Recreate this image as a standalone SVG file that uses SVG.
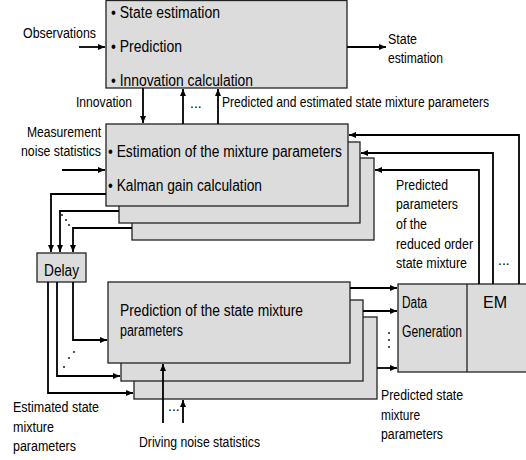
<svg xmlns="http://www.w3.org/2000/svg" width="526" height="460" viewBox="0 0 526 460">
<defs>
<marker id="ah" markerUnits="userSpaceOnUse" markerWidth="8" markerHeight="7" refX="7" refY="3" orient="auto"><path d="M0,0 L7,3 L0,6 z" fill="#000"/></marker>
<style>
.box{fill:#dcdcdc;stroke:#222;stroke-width:1.3}
.ln{fill:none;stroke:#000;stroke-width:1.8}
.ar{fill:none;stroke:#000;stroke-width:1.8;marker-end:url(#ah)}
text{font-family:"Liberation Sans",Arial,sans-serif;fill:#000}
.b{font-size:16px}
.l{font-size:14px}
.dot{fill:#000}
</style>
</defs>
<rect width="526" height="460" fill="#fff"/>
<g id="top-box">
<rect class="box" x="106" y="0.5" width="241" height="87.5"/>
<text class="b" x="111" y="18" textLength="109" lengthAdjust="spacingAndGlyphs">• State estimation</text>
<text class="b" x="111" y="52" textLength="71" lengthAdjust="spacingAndGlyphs">• Prediction</text>
<text class="b" x="111" y="86" textLength="142" lengthAdjust="spacingAndGlyphs">• Innovation calculation</text>
</g>
<g id="estimation-boxes">
<rect class="box" x="132" y="158" width="242" height="82"/>
<rect class="box" x="119" y="142" width="241" height="81"/>
<rect class="box" x="106" y="124" width="242" height="82"/>
<text class="b" x="108" y="157" textLength="234" lengthAdjust="spacingAndGlyphs">• Estimation of the mixture parameters</text>
<text class="b" x="108" y="191" textLength="154" lengthAdjust="spacingAndGlyphs">• Kalman gain calculation</text>
</g>
<g id="delay">
<rect class="box" x="37" y="253" width="49" height="29"/>
<text class="b" x="44" y="276" textLength="35" lengthAdjust="spacingAndGlyphs">Delay</text>
</g>
<g id="prediction-boxes">
<rect class="box" x="134" y="317" width="243" height="82"/>
<rect class="box" x="121" y="300" width="242" height="81"/>
<rect class="box" x="108" y="282" width="242" height="81"/>
<text class="b" x="120" y="316" textLength="183" lengthAdjust="spacingAndGlyphs">Prediction of the state mixture</text>
<text class="b" x="120" y="336" textLength="63" lengthAdjust="spacingAndGlyphs">parameters</text>
</g>
<g id="data-em">
<rect class="box" x="398" y="284" width="130" height="88"/>
<line x1="467" y1="284" x2="467" y2="372" stroke="#222" stroke-width="1.3"/>
<text class="b" x="402" y="308" textLength="25" lengthAdjust="spacingAndGlyphs">Data</text>
<text class="b" x="402" y="337" textLength="60" lengthAdjust="spacingAndGlyphs">Generation</text>
<text class="b" x="483" y="308" textLength="24" lengthAdjust="spacingAndGlyphs">EM</text>
</g>
<g id="connectors">
<path class="ar" d="M79,47 H105"/>
<path class="ar" d="M347,47 H386"/>
<path class="ar" d="M143,88 V123"/>
<path class="ar" d="M183,124 V89"/>
<path class="ar" d="M218,124 V89"/>
<path class="ar" d="M62,170 H105"/>
<path class="ar" d="M106,194 H51 V252"/>
<path class="ar" d="M119,211 H60 V252"/>
<path class="ar" d="M132,228 H73 V252"/>
<path class="ar" d="M73,282 V340 H107"/>
<path class="ar" d="M57,282 V376 H120"/>
<path class="ar" d="M48,282 V393 H133"/>
<path class="ar" d="M163,423 V364"/>
<path class="ar" d="M183,423 V400"/>
<path class="ar" d="M350,288 H397"/>
<path class="ar" d="M363,311 H397"/>
<path class="ar" d="M377,368 H397"/>
<path class="ar" d="M519,284 V135 H349"/>
<path class="ar" d="M493,284 V153 H361"/>
<path class="ar" d="M479,284 V170 H375"/>
<circle class="dot" cx="62" cy="215" r="0.9"/>
<circle class="dot" cx="66" cy="220" r="0.9"/>
<circle class="dot" cx="69" cy="225" r="0.9"/>
<circle class="dot" cx="74" cy="352" r="0.9"/>
<circle class="dot" cx="69" cy="358" r="0.9"/>
<circle class="dot" cx="64" cy="367" r="0.9"/>
<circle class="dot" cx="389" cy="333" r="0.9"/>
<circle class="dot" cx="389" cy="340" r="0.9"/>
<circle class="dot" cx="389" cy="347" r="0.9"/>
<text class="l" x="190" y="108">...</text>
<text class="l" x="168" y="411">...</text>
<text class="l" x="498" y="265">...</text>
</g>
<g id="labels">
<text class="l" x="23" y="38" textLength="73" lengthAdjust="spacingAndGlyphs">Observations</text>
<text class="l" x="388" y="44" textLength="29" lengthAdjust="spacingAndGlyphs">State</text>
<text class="l" x="388" y="63" textLength="55" lengthAdjust="spacingAndGlyphs">estimation</text>
<text class="l" x="76" y="107" textLength="56" lengthAdjust="spacingAndGlyphs">Innovation</text>
<text class="l" x="222" y="107" textLength="267" lengthAdjust="spacingAndGlyphs">Predicted and estimated state mixture parameters</text>
<text class="l" x="27" y="137" textLength="74" lengthAdjust="spacingAndGlyphs">Measurement</text>
<text class="l" x="21" y="156" textLength="80" lengthAdjust="spacingAndGlyphs">noise statistics</text>
<text class="l" x="396" y="190" textLength="52" lengthAdjust="spacingAndGlyphs">Predicted</text>
<text class="l" x="396" y="209" textLength="62" lengthAdjust="spacingAndGlyphs">parameters</text>
<text class="l" x="396" y="229" textLength="31" lengthAdjust="spacingAndGlyphs">of the</text>
<text class="l" x="396" y="249" textLength="77" lengthAdjust="spacingAndGlyphs">reduced order</text>
<text class="l" x="396" y="268" textLength="71" lengthAdjust="spacingAndGlyphs">state mixture</text>
<text class="l" x="381" y="400" textLength="82" lengthAdjust="spacingAndGlyphs">Predicted state</text>
<text class="l" x="381" y="420" textLength="39" lengthAdjust="spacingAndGlyphs">mixture</text>
<text class="l" x="381" y="439" textLength="62" lengthAdjust="spacingAndGlyphs">parameters</text>
<text class="l" x="13" y="412" textLength="86" lengthAdjust="spacingAndGlyphs">Estimated state</text>
<text class="l" x="13" y="432" textLength="41" lengthAdjust="spacingAndGlyphs">mixture</text>
<text class="l" x="13" y="451" textLength="63" lengthAdjust="spacingAndGlyphs">parameters</text>
<text class="l" x="139" y="447" textLength="121" lengthAdjust="spacingAndGlyphs">Driving noise statistics</text>
</g>
</svg>
